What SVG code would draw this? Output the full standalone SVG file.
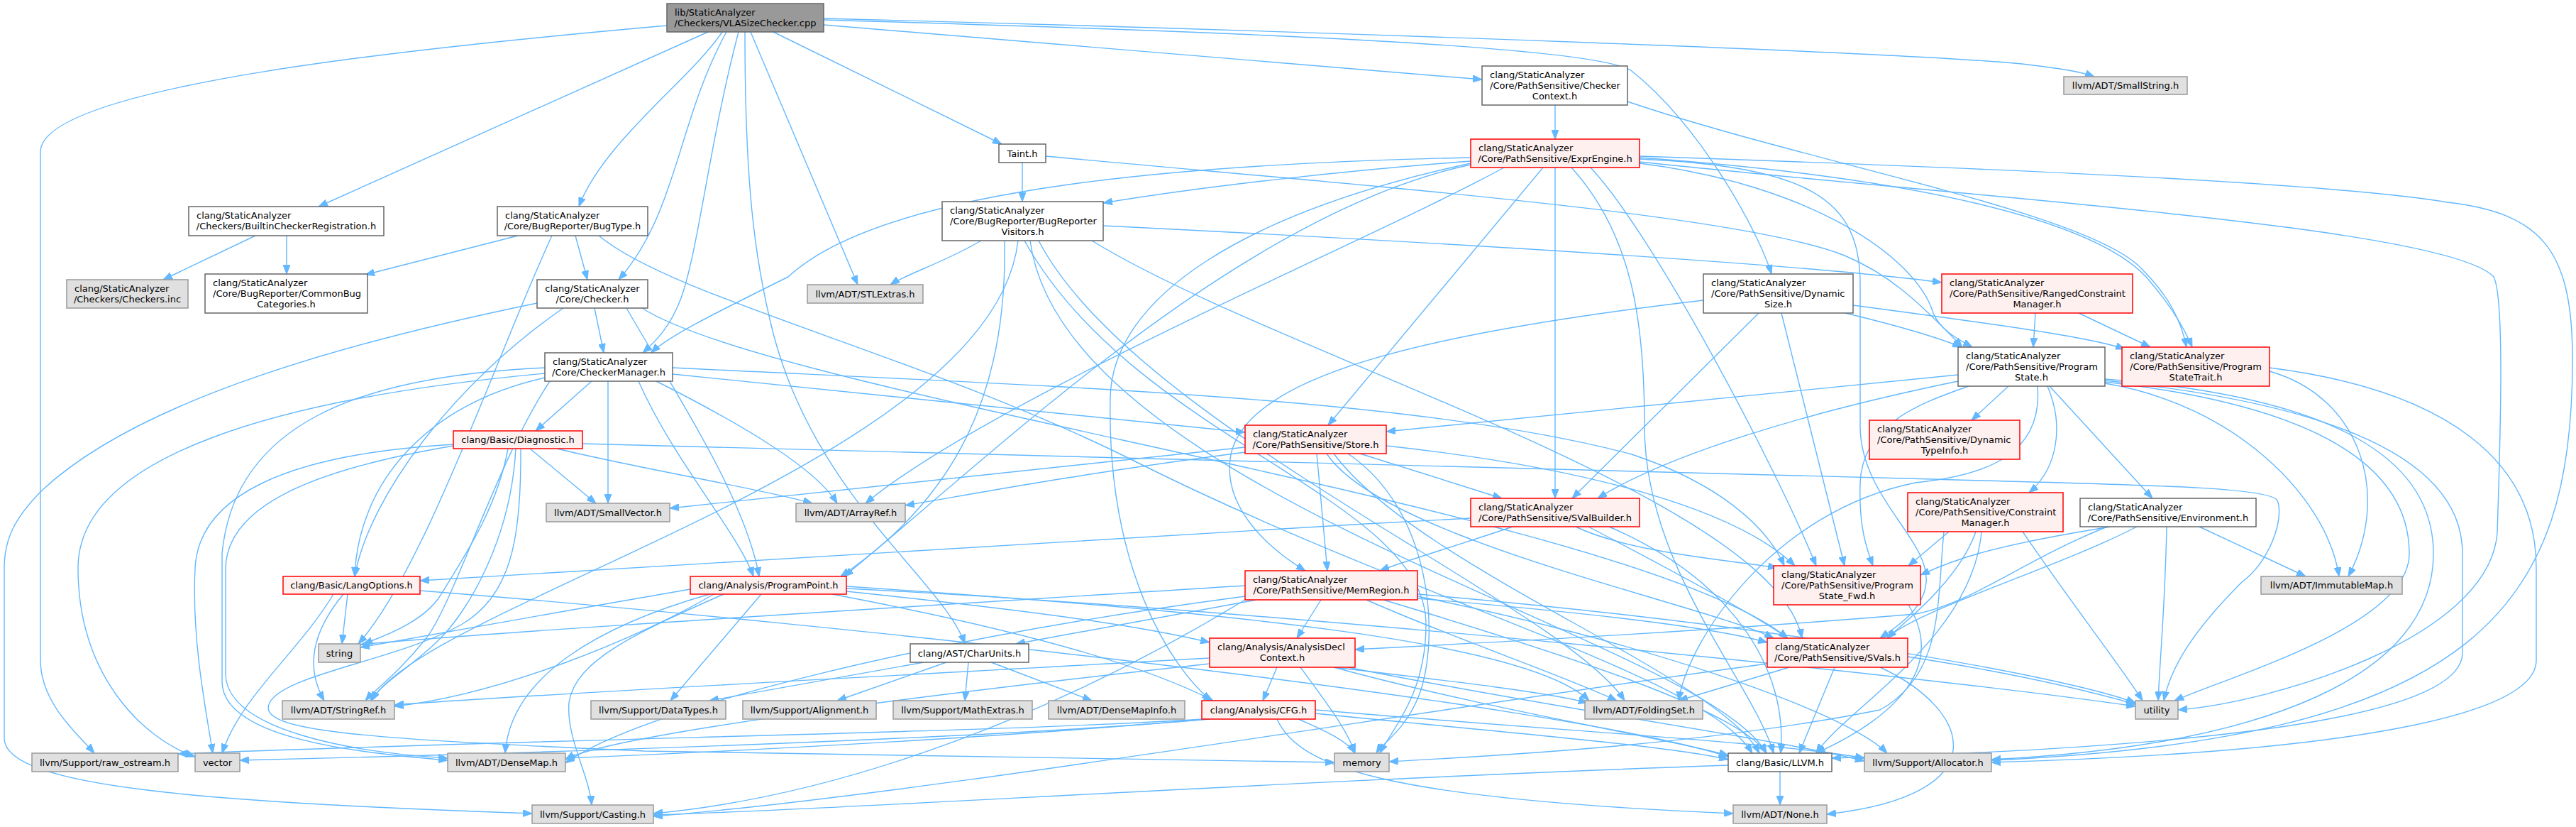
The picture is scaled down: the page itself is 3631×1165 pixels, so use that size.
<svg xmlns="http://www.w3.org/2000/svg" width="3631" height="1165" viewBox="0 0 3631 1165">
<style>
.w{fill:#ffffff;stroke:#666666}
.r{fill:#fff0f0;stroke:#ff0000}
.g{fill:#e0e0e0;stroke:#999999}
.k{fill:#999999;stroke:#666666}
rect{stroke-width:1.5}
text{font-family:"DejaVu Sans",sans-serif;font-size:13px;fill:#000000}
.m{text-anchor:middle}
#edges path{fill:none;stroke:#63b8ff;stroke-width:1.4;marker-end:url(#a)}
</style>
<defs>
<marker id="a" markerUnits="userSpaceOnUse" markerWidth="13" markerHeight="10" viewBox="0 0 13 10" refX="13" refY="5" orient="auto">
<path d="M0,0 L13,5 L0,10 z" fill="#63b8ff" stroke="#63b8ff"/>
</marker>
</defs>
<rect x="0" y="0" width="3631" height="1165" fill="#ffffff"/>
<g id="edges">
<path d="M1090,45 L1412,203"/>
<path d="M1050,45 C1050,250 1062,360 1090,470 C1150,700 1330,820 1360,907"/>
<path d="M998,45 L449,291"/>
<path d="M1018,45 C975,110 850,200 816,291"/>
<path d="M1024,45 C955,170 955,300 872,394"/>
<path d="M1041,45 C1000,200 985,350 960,420 C945,460 925,480 906,497"/>
<path d="M1161,35 L2089,112"/>
<path d="M1161,28 C1750,45 2250,65 2300,100 C2400,180 2480,330 2497,386"/>
<path d="M1058,45 L1209,401"/>
<path d="M1161,26 C1900,45 2700,75 2850,90 C2900,96 2930,100 2952,108"/>
<path d="M940,36 C600,66 60,120 57,213 L57,930 C57,990 110,1035 133,1061"/>
<path d="M1441,229 L1441,284"/>
<path d="M1474,220 C1900,260 2450,300 2600,360 C2660,385 2700,420 2766,489"/>
<path d="M1555,318 C2000,340 2550,372 2737,398"/>
<path d="M1383,339 C1330,370 1280,385 1255,401"/>
<path d="M1416,339 C1420,550 1350,700 1185,812"/>
<path d="M1435,339 C1400,650 600,850 524,987"/>
<path d="M1452,339 C1500,700 2400,900 2490,1061"/>
<path d="M1464,339 C1600,600 2200,850 2290,987"/>
<path d="M1539,339 C1800,500 2500,700 2540,899"/>
<path d="M1444,339 C1600,620 2010,700 2010,880 C2010,980 1960,1030 1945,1061"/>
<path d="M2192,148 L2192,196"/>
<path d="M2294,143 C2550,230 2950,300 3020,380 C3060,420 3075,455 3082,489"/>
<path d="M2073,227 C1900,240 1700,262 1555,286"/>
<path d="M2073,222 C1700,230 1250,260 1111,390 C1000,445 940,475 918,497"/>
<path d="M2120,236 C1950,330 1400,560 1220,709"/>
<path d="M2073,232 C1750,300 1400,640 1190,812"/>
<path d="M2073,230 C1750,300 1568,420 1565,560 C1560,800 1650,940 1707,987"/>
<path d="M2175,236 L1872,599"/>
<path d="M2192,236 L2192,702"/>
<path d="M2242,236 C2330,330 2500,650 2560,797"/>
<path d="M2311,224 C2550,235 2622,280 2622,400 L2622,600 C2622,700 2720,760 2715,820 C2712,860 2670,885 2650,899"/>
<path d="M2311,230 C2550,260 2700,360 2725,441 C2735,465 2760,478 2780,489"/>
<path d="M2311,222 C2700,250 2950,310 3025,390 C3060,430 3078,460 3090,489"/>
<path d="M2215,236 C2300,330 2318,450 2318,600 C2318,800 2470,960 2500,1061"/>
<path d="M2311,228 C2800,280 3450,320 3515,390 C3530,420 3525,600 3520,750 C3510,900 3200,990 3070,1000"/>
<path d="M2311,220 C2900,240 3300,260 3450,285 C3580,300 3625,350 3626,500 C3628,850 3500,1040 2807,1071"/>
<path d="M360,332 L230,394"/>
<path d="M404,332 L404,386"/>
<path d="M730,332 L515,387"/>
<path d="M778,332 C700,500 600,800 505,907"/>
<path d="M811,332 L828,394"/>
<path d="M844,332 C950,420 1300,500 1600,650 C2000,850 2400,950 2470,1061"/>
<path d="M757,427 C500,480 200,560 60,690 C20,730 6,760 6,800 L6,1040 C6,1110 300,1130 750,1146"/>
<path d="M794,434 C640,540 520,700 500,812"/>
<path d="M838,434 L851,497"/>
<path d="M883,434 C950,550 1050,700 1070,812"/>
<path d="M905,434 C1100,560 2300,720 2520,899"/>
<path d="M834,537 L755,607"/>
<path d="M857,537 L857,709"/>
<path d="M925,537 C1050,600 1150,660 1180,709"/>
<path d="M948,527 L1755,609"/>
<path d="M948,518 C1500,545 2000,560 2300,640 C2420,680 2490,740 2515,797"/>
<path d="M900,537 C950,650 1040,750 1062,812"/>
<path d="M768,526 C400,560 110,640 110,800 C110,950 200,1040 275,1066"/>
<path d="M768,532 C600,570 505,680 500,812"/>
<path d="M768,518 C500,530 330,600 313,780 L313,960 C313,1040 500,1060 631,1071"/>
<path d="M775,537 C700,650 640,850 600,900 C560,950 530,970 515,987"/>
<path d="M747,632 L840,709"/>
<path d="M785,632 C900,660 1080,690 1145,709"/>
<path d="M821,625 C1300,640 1800,650 2724,675 C3000,683 3200,685 3210,705 C3220,730 3200,790 3160,820 C3090,890 3060,940 3050,987"/>
<path d="M639,626 C400,640 280,700 275,800 C270,900 290,1000 300,1061"/>
<path d="M639,628 C420,665 320,720 318,800 L318,950 C320,1030 500,1060 631,1068"/>
<path d="M716,632 C700,720 650,790 620,840 C600,870 560,890 512,907"/>
<path d="M727,632 C720,760 660,860 620,900 C580,940 540,960 522,987"/>
<path d="M734,632 C735,760 720,840 650,880 C560,930 400,950 380,990 C360,1030 500,1040 908,1058 C1400,1065 1800,1072 1881,1074"/>
<path d="M490,837 L482,907"/>
<path d="M484,837 C440,890 430,940 457,987"/>
<path d="M470,837 C420,920 340,980 313,1061"/>
<path d="M592,832 C1200,880 2200,990 2436,1066"/>
<path d="M1073,837 L945,987"/>
<path d="M1173,837 C1400,880 1600,930 1710,987"/>
<path d="M1193,833 C1450,860 1600,880 1705,905"/>
<path d="M1193,826 C1700,860 2150,900 2240,987"/>
<path d="M1193,829 C1800,860 2700,950 3010,995"/>
<path d="M1006,837 C900,900 700,980 556,995"/>
<path d="M973,830 C800,860 600,895 508,912"/>
<path d="M1000,837 C850,880 720,950 712,1061"/>
<path d="M1020,837 C900,890 810,930 802,990 C798,1040 830,1090 834,1134"/>
<path d="M1302,933 L1000,987"/>
<path d="M1334,933 L1180,987"/>
<path d="M1365,933 L1360,987"/>
<path d="M1397,933 L1539,987"/>
<path d="M1705,1013 C1400,1040 800,1060 338,1071"/>
<path d="M1700,1013 C1400,1040 1000,1060 797,1068"/>
<path d="M1695,1013 C1400,1032 800,1040 251,1062"/>
<path d="M1830,1013 C1870,1030 1900,1045 1910,1061"/>
<path d="M1854,1005 C2100,1030 2350,1050 2436,1070"/>
<path d="M1800,1013 C1830,1080 1950,1125 2443,1146"/>
<path d="M1854,1000 C2200,1030 2500,1045 2628,1068"/>
<path d="M1800,940 L1780,987"/>
<path d="M1880,940 C2100,1000 2350,1040 2436,1064"/>
<path d="M1705,927 C1300,950 800,975 556,993"/>
<path d="M1705,935 C1200,990 850,1040 797,1070"/>
<path d="M1880,940 C2050,960 2180,975 2238,990"/>
<path d="M1900,940 C2200,1000 2500,1040 2628,1072"/>
<path d="M1833,940 C1870,990 1900,1030 1910,1061"/>
<path d="M1771,845 L1432,907"/>
<path d="M1862,845 L1828,899"/>
<path d="M1998,843 C2200,860 2400,880 2491,905"/>
<path d="M1950,845 C2200,920 2450,1000 2490,1061"/>
<path d="M1755,840 C1300,900 900,1000 797,1075"/>
<path d="M1926,845 C2050,900 2200,950 2279,987"/>
<path d="M1998,840 C2300,900 2600,1000 2660,1061"/>
<path d="M1755,845 C1500,1000 1200,1120 921,1146"/>
<path d="M1755,825 C1200,860 700,890 508,908"/>
<path d="M1998,837 C2500,880 2900,950 3010,990"/>
<path d="M2586,940 L2536,1061"/>
<path d="M2522,940 L2366,987"/>
<path d="M2650,940 C2780,1000 2820,1120 2575,1147"/>
<path d="M2491,935 C2000,1000 1300,1120 921,1150"/>
<path d="M2689,925 C2850,950 2950,975 3010,992"/>
<path d="M2690,852 C2750,950 2650,1020 2560,1061"/>
<path d="M2970,742 C2850,790 2780,850 2700,865 C2400,890 2100,905 1910,915"/>
<path d="M2975,742 C2800,770 2750,790 2707,810"/>
<path d="M3012,742 C2900,800 2700,860 2660,899"/>
<path d="M3054,742 C3052,850 3045,920 3042,987"/>
<path d="M3100,742 L3250,812"/>
<path d="M2747,749 L2690,797"/>
<path d="M2785,749 C2760,820 2680,880 2660,899"/>
<path d="M2793,749 C2780,900 2600,1000 2560,1061"/>
<path d="M2740,749 C2730,850 2740,950 2650,1000 C2400,1050 2100,1065 1958,1073"/>
<path d="M2851,749 C2920,850 2990,940 3020,987"/>
<path d="M2869,441 L2866,489"/>
<path d="M2930,441 L3031,489"/>
<path d="M2760,528 L1954,608"/>
<path d="M2760,537 C2550,580 2350,640 2252,702"/>
<path d="M2831,544 L2779,592"/>
<path d="M2886,544 C2910,600 2900,660 2860,694"/>
<path d="M2889,544 L3034,702"/>
<path d="M2775,544 C2700,570 2625,600 2622,680 C2620,740 2630,770 2640,797"/>
<path d="M2872,544 C2880,640 2800,670 2700,680 C2500,720 2380,900 2366,987"/>
<path d="M2967,540 C3150,570 3280,700 3297,812"/>
<path d="M2967,538 C3250,570 3396,650 3396,780 C3396,880 3150,950 3065,987"/>
<path d="M2967,536 C3300,570 3471,650 3471,780 L3471,920 C3470,1000 3200,1050 2582,1068"/>
<path d="M2967,534 C3300,560 3430,650 3430,780 C3430,950 3200,1050 2807,1070"/>
<path d="M3199,523 C3330,560 3370,700 3310,812"/>
<path d="M3199,518 C3450,550 3575,650 3575,800 L3575,930 C3575,1010 3300,1060 2807,1074"/>
<path d="M1755,630 C1400,670 1100,700 944,716"/>
<path d="M1755,637 C1500,670 1350,700 1276,712"/>
<path d="M1917,639 L2117,702"/>
<path d="M1954,628 C2250,660 2450,720 2530,797"/>
<path d="M1856,639 L1871,804"/>
<path d="M1870,639 C1950,760 2400,850 2500,899"/>
<path d="M1880,639 C2000,800 2420,950 2480,1061"/>
<path d="M1900,639 C2020,720 2030,900 2000,980 C1980,1030 1950,1045 1940,1061"/>
<path d="M2073,730 C1500,760 900,800 592,818"/>
<path d="M2132,742 C2050,770 1980,790 1945,804"/>
<path d="M2221,742 C2300,780 2450,790 2505,800"/>
<path d="M2239,742 C2350,800 2480,870 2520,899"/>
<path d="M2268,742 C2450,820 2520,950 2510,1061"/>
<path d="M2401,423 C2000,470 1760,530 1735,640 C1720,720 1800,780 1840,804"/>
<path d="M2479,441 L2216,702"/>
<path d="M2511,441 L2600,797"/>
<path d="M2601,441 C2680,460 2730,475 2765,489"/>
<path d="M2612,430 C2800,455 2950,475 2995,492"/>
<path d="M2509,1087 L2509,1134"/>
<path d="M2436,1078 C1800,1100 1200,1140 921,1148"/>
</g>
<g id="n-root"><rect class="k" x="940" y="5" width="221" height="40"/><text x="951" y="22">lib/StaticAnalyzer</text><text class="m" x="1050.5" y="37">/Checkers/VLASizeChecker.cpp</text></g>
<g id="n-taint"><rect class="w" x="1408" y="203" width="66" height="26"/><text class="m" x="1441" y="220.5">Taint.h</text></g>
<g id="n-brvisitors"><rect class="w" x="1328" y="284" width="227" height="55"/><text x="1339" y="301">clang/StaticAnalyzer</text><text x="1339" y="316">/Core/BugReporter/BugReporter</text><text class="m" x="1441.5" y="331">Visitors.h</text></g>
<g id="n-checkercontext"><rect class="w" x="2089" y="93" width="205" height="55"/><text x="2100" y="110">clang/StaticAnalyzer</text><text x="2100" y="125">/Core/PathSensitive/Checker</text><text class="m" x="2191.5" y="140">Context.h</text></g>
<g id="n-exprengine"><rect class="r" x="2073" y="196" width="238" height="40"/><text x="2084" y="213">clang/StaticAnalyzer</text><text class="m" x="2192" y="228">/Core/PathSensitive/ExprEngine.h</text></g>
<g id="n-builtin"><rect class="w" x="266" y="291" width="275" height="41"/><text x="277" y="308">clang/StaticAnalyzer</text><text class="m" x="403.5" y="323">/Checkers/BuiltinCheckerRegistration.h</text></g>
<g id="n-checkersinc"><rect class="g" x="94" y="394" width="171" height="40"/><text x="105" y="411">clang/StaticAnalyzer</text><text class="m" x="179.5" y="426">/Checkers/Checkers.inc</text></g>
<g id="n-commonbug"><rect class="w" x="289" y="386" width="229" height="55"/><text x="300" y="403">clang/StaticAnalyzer</text><text x="300" y="418">/Core/BugReporter/CommonBug</text><text class="m" x="403.5" y="433">Categories.h</text></g>
<g id="n-bugtype"><rect class="w" x="701" y="291" width="212" height="41"/><text x="712" y="308">clang/StaticAnalyzer</text><text class="m" x="807" y="323">/Core/BugReporter/BugType.h</text></g>
<g id="n-checker"><rect class="w" x="757" y="394" width="156" height="40"/><text class="m" x="835" y="411">clang/StaticAnalyzer</text><text class="m" x="835" y="426">/Core/Checker.h</text></g>
<g id="n-checkermanager"><rect class="w" x="768" y="497" width="180" height="40"/><text x="779" y="514">clang/StaticAnalyzer</text><text class="m" x="858" y="529">/Core/CheckerManager.h</text></g>
<g id="n-diagnostic"><rect class="r" x="639" y="607" width="182" height="25"/><text class="m" x="730" y="624">clang/Basic/Diagnostic.h</text></g>
<g id="n-smallvector"><rect class="g" x="770" y="709" width="174" height="26"/><text class="m" x="857" y="726.5">llvm/ADT/SmallVector.h</text></g>
<g id="n-stlextras"><rect class="g" x="1138" y="401" width="163" height="26"/><text class="m" x="1219.5" y="418.5">llvm/ADT/STLExtras.h</text></g>
<g id="n-arrayref"><rect class="g" x="1122" y="709" width="154" height="26"/><text class="m" x="1199" y="726.5">llvm/ADT/ArrayRef.h</text></g>
<g id="n-store"><rect class="r" x="1755" y="599" width="199" height="40"/><text x="1766" y="616">clang/StaticAnalyzer</text><text class="m" x="1854.5" y="631">/Core/PathSensitive/Store.h</text></g>
<g id="n-dynamicsize"><rect class="w" x="2401" y="386" width="211" height="55"/><text x="2412" y="403">clang/StaticAnalyzer</text><text x="2412" y="418">/Core/PathSensitive/Dynamic</text><text class="m" x="2506.5" y="433">Size.h</text></g>
<g id="n-svalbuilder"><rect class="r" x="2073" y="702" width="238" height="40"/><text x="2084" y="719">clang/StaticAnalyzer</text><text class="m" x="2192" y="734">/Core/PathSensitive/SValBuilder.h</text></g>
<g id="n-dynamictypeinfo"><rect class="r" x="2635" y="592" width="212" height="55"/><text x="2646" y="609">clang/StaticAnalyzer</text><text x="2646" y="624">/Core/PathSensitive/Dynamic</text><text class="m" x="2741" y="639">TypeInfo.h</text></g>
<g id="n-constraintmanager"><rect class="r" x="2689" y="694" width="219" height="55"/><text x="2700" y="711">clang/StaticAnalyzer</text><text x="2700" y="726">/Core/PathSensitive/Constraint</text><text class="m" x="2798.5" y="741">Manager.h</text></g>
<g id="n-smallstring"><rect class="g" x="2909" y="108" width="174" height="25"/><text class="m" x="2996" y="125">llvm/ADT/SmallString.h</text></g>
<g id="n-rangedcm"><rect class="r" x="2737" y="386" width="269" height="55"/><text x="2748" y="403">clang/StaticAnalyzer</text><text x="2748" y="418">/Core/PathSensitive/RangedConstraint</text><text class="m" x="2871.5" y="433">Manager.h</text></g>
<g id="n-programstate"><rect class="w" x="2760" y="489" width="207" height="55"/><text x="2771" y="506">clang/StaticAnalyzer</text><text x="2771" y="521">/Core/PathSensitive/Program</text><text class="m" x="2863.5" y="536">State.h</text></g>
<g id="n-programstatetrait"><rect class="r" x="2991" y="489" width="208" height="55"/><text x="3002" y="506">clang/StaticAnalyzer</text><text x="3002" y="521">/Core/PathSensitive/Program</text><text class="m" x="3095" y="536">StateTrait.h</text></g>
<g id="n-environment"><rect class="w" x="2932" y="702" width="248" height="40"/><text x="2943" y="719">clang/StaticAnalyzer</text><text class="m" x="3056" y="734">/Core/PathSensitive/Environment.h</text></g>
<g id="n-langoptions"><rect class="r" x="399" y="812" width="193" height="25"/><text class="m" x="495.5" y="829">clang/Basic/LangOptions.h</text></g>
<g id="n-string"><rect class="g" x="449" y="907" width="59" height="26"/><text class="m" x="478.5" y="924.5">string</text></g>
<g id="n-stringref"><rect class="g" x="398" y="987" width="158" height="26"/><text class="m" x="477" y="1004.5">llvm/ADT/StringRef.h</text></g>
<g id="n-rawostream"><rect class="g" x="45" y="1061" width="206" height="26"/><text class="m" x="148" y="1078.5">llvm/Support/raw_ostream.h</text></g>
<g id="n-vector"><rect class="g" x="275" y="1061" width="63" height="26"/><text class="m" x="306.5" y="1078.5">vector</text></g>
<g id="n-densemap"><rect class="g" x="631" y="1061" width="166" height="26"/><text class="m" x="714" y="1078.5">llvm/ADT/DenseMap.h</text></g>
<g id="n-casting"><rect class="g" x="750" y="1134" width="171" height="26"/><text class="m" x="835.5" y="1151.5">llvm/Support/Casting.h</text></g>
<g id="n-datatypes"><rect class="g" x="833" y="987" width="190" height="26"/><text class="m" x="928" y="1004.5">llvm/Support/DataTypes.h</text></g>
<g id="n-programpoint"><rect class="r" x="973" y="812" width="220" height="25"/><text class="m" x="1083" y="829">clang/Analysis/ProgramPoint.h</text></g>
<g id="n-charunits"><rect class="w" x="1283" y="907" width="167" height="26"/><text class="m" x="1366.5" y="924.5">clang/AST/CharUnits.h</text></g>
<g id="n-alignment"><rect class="g" x="1047" y="987" width="188" height="26"/><text class="m" x="1141" y="1004.5">llvm/Support/Alignment.h</text></g>
<g id="n-mathextras"><rect class="g" x="1259" y="987" width="196" height="26"/><text class="m" x="1357" y="1004.5">llvm/Support/MathExtras.h</text></g>
<g id="n-densemapinfo"><rect class="g" x="1478" y="987" width="192" height="26"/><text class="m" x="1574" y="1004.5">llvm/ADT/DenseMapInfo.h</text></g>
<g id="n-cfg"><rect class="r" x="1694" y="987" width="160" height="26"/><text class="m" x="1774" y="1004.5">clang/Analysis/CFG.h</text></g>
<g id="n-analysisdeclcontext"><rect class="r" x="1705" y="899" width="205" height="41"/><text x="1716" y="916">clang/Analysis/AnalysisDecl</text><text class="m" x="1807.5" y="931">Context.h</text></g>
<g id="n-memregion"><rect class="r" x="1755" y="804" width="243" height="41"/><text x="1766" y="821">clang/StaticAnalyzer</text><text class="m" x="1876.5" y="836">/Core/PathSensitive/MemRegion.h</text></g>
<g id="n-programstatefwd"><rect class="r" x="2500" y="797" width="207" height="55"/><text x="2511" y="814">clang/StaticAnalyzer</text><text x="2511" y="829">/Core/PathSensitive/Program</text><text class="m" x="2603.5" y="844">State_Fwd.h</text></g>
<g id="n-svals"><rect class="r" x="2491" y="899" width="198" height="41"/><text x="2502" y="916">clang/StaticAnalyzer</text><text class="m" x="2590" y="931">/Core/PathSensitive/SVals.h</text></g>
<g id="n-foldingset"><rect class="g" x="2234" y="987" width="166" height="26"/><text class="m" x="2317" y="1004.5">llvm/ADT/FoldingSet.h</text></g>
<g id="n-memory"><rect class="g" x="1881" y="1061" width="77" height="26"/><text class="m" x="1919.5" y="1078.5">memory</text></g>
<g id="n-llvm"><rect class="w" x="2436" y="1061" width="146" height="26"/><text class="m" x="2509" y="1078.5">clang/Basic/LLVM.h</text></g>
<g id="n-none"><rect class="g" x="2443" y="1134" width="132" height="26"/><text class="m" x="2509" y="1151.5">llvm/ADT/None.h</text></g>
<g id="n-allocator"><rect class="g" x="2628" y="1061" width="179" height="26"/><text class="m" x="2717.5" y="1078.5">llvm/Support/Allocator.h</text></g>
<g id="n-immutablemap"><rect class="g" x="3187" y="812" width="199" height="25"/><text class="m" x="3286.5" y="829">llvm/ADT/ImmutableMap.h</text></g>
<g id="n-utility"><rect class="g" x="3010" y="987" width="60" height="26"/><text class="m" x="3040" y="1004.5">utility</text></g>
</svg>
